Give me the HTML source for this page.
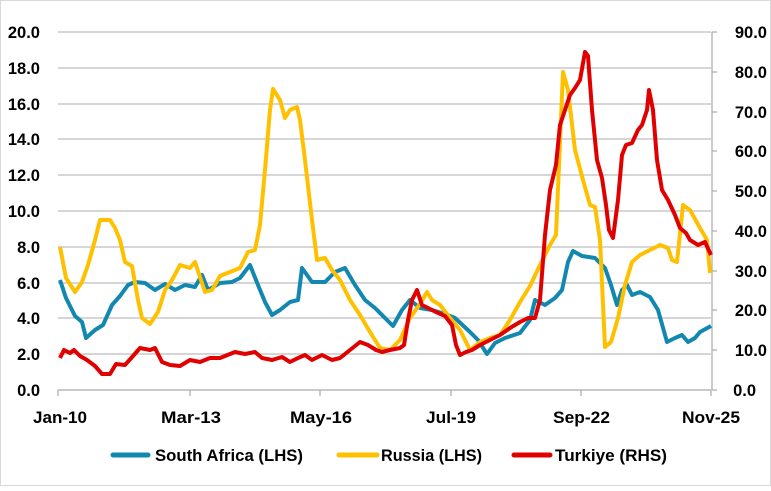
<!DOCTYPE html><html><head><style>body{margin:0;background:#fff}svg text{font-family:"Liberation Sans",sans-serif;font-weight:bold;font-size:16.5px;fill:#000}</style></head><body>
<svg width="771" height="486" xmlns="http://www.w3.org/2000/svg">
<rect x="0.5" y="0.5" width="770" height="485" fill="#fff" stroke="#d9d9d9"/>
<g stroke="#c8c8c8" stroke-width="1.5">
<line x1="58" x2="711" y1="32" y2="32"/><line x1="58" x2="711" y1="68" y2="68"/><line x1="58" x2="711" y1="104" y2="104"/><line x1="58" x2="711" y1="139" y2="139"/><line x1="58" x2="711" y1="175" y2="175"/><line x1="58" x2="711" y1="211" y2="211"/><line x1="58" x2="711" y1="247" y2="247"/><line x1="58" x2="711" y1="283" y2="283"/><line x1="58" x2="711" y1="318" y2="318"/><line x1="58" x2="711" y1="354" y2="354"/>
</g>
<g stroke="#aaa" stroke-width="1.2">
<line x1="58" x2="711" y1="390" y2="390"/><line x1="712" x2="712" y1="32" y2="390"/>
<line x1="58" x2="58" y1="390" y2="396"/><line x1="190" x2="190" y1="390" y2="396"/><line x1="320" x2="320" y1="390" y2="396"/><line x1="451" x2="451" y1="390" y2="396"/><line x1="581" x2="581" y1="390" y2="396"/><line x1="711" x2="711" y1="390" y2="396"/>
<line x1="712" x2="717" y1="32" y2="32"/><line x1="712" x2="717" y1="72" y2="72"/><line x1="712" x2="717" y1="112" y2="112"/><line x1="712" x2="717" y1="151" y2="151"/><line x1="712" x2="717" y1="191" y2="191"/><line x1="712" x2="717" y1="231" y2="231"/><line x1="712" x2="717" y1="271" y2="271"/><line x1="712" x2="717" y1="310" y2="310"/><line x1="712" x2="717" y1="350" y2="350"/><line x1="712" x2="717" y1="390" y2="390"/>
</g>
<g text-anchor="end">
<text x="40" y="38">20.0</text><text x="40" y="74">18.0</text><text x="40" y="110">16.0</text><text x="40" y="145">14.0</text><text x="40" y="181">12.0</text><text x="40" y="217">10.0</text><text x="40" y="253">8.0</text><text x="40" y="289">6.0</text><text x="40" y="324">4.0</text><text x="40" y="360">2.0</text><text x="40" y="396">0.0</text>
</g>
<g text-anchor="end">
<text x="767" y="38">90.0</text><text x="767" y="78">80.0</text><text x="767" y="118">70.0</text><text x="767" y="157">60.0</text><text x="767" y="197">50.0</text><text x="767" y="237">40.0</text><text x="767" y="277">30.0</text><text x="767" y="316">20.0</text><text x="767" y="356">10.0</text><text x="756" y="396">0.0</text>
</g>
<g>
<text x="33" y="423" textLength="54" lengthAdjust="spacingAndGlyphs">Jan-10</text>
<text x="161" y="423" textLength="60" lengthAdjust="spacingAndGlyphs">Mar-13</text>
<text x="290" y="423" textLength="62" lengthAdjust="spacingAndGlyphs">May-16</text>
<text x="426" y="423" textLength="50" lengthAdjust="spacingAndGlyphs">Jul-19</text>
<text x="553" y="423" textLength="57" lengthAdjust="spacingAndGlyphs">Sep-22</text>
<text x="682" y="423" textLength="58" lengthAdjust="spacingAndGlyphs">Nov-25</text>
</g>
<g fill="none" stroke-width="4" stroke-linejoin="round">
<polyline stroke="#1287b0" points="60,280 66,298 75,316 82,322 86,338 95,330 103,325 112,305 120,296 128,285 135,282 145,283 155,290 165,284 175,290 185,285 195,287 202,275 208,290 220,283 232,282 240,278 250,265 258,285 265,302 272,315 280,310 290,302 298,300 302,268 312,282 325,282 335,272 345,268 355,285 365,300 375,308 385,318 393,326 402,310 410,300 420,308 432,310 445,314 455,318 470,332 478,340 487,354 495,343 505,338 520,333 530,320 535,300 545,305 555,298 562,290 568,262 573,251 582,256 595,258 605,268 611,285 617,305 622,290 627,285 632,295 640,292 650,297 658,310 667,342 675,338 682,335 688,342 695,338 700,332 711,326"/>
<polyline stroke="#ffc000" points="60,247 66,278 75,292 82,282 88,265 95,240 100,220 110,220 115,228 120,240 125,262 132,266 138,300 142,318 150,324 158,312 165,290 172,280 180,265 190,268 195,262 205,292 212,290 220,276 230,272 240,268 248,252 255,250 260,225 265,170 270,110 273,89 280,100 285,118 290,110 297,107 300,120 305,160 312,220 317,260 325,258 332,270 340,280 350,300 360,315 370,332 380,348 390,350 400,340 410,318 420,304 427,292 432,300 440,305 450,318 460,330 470,350 480,342 490,338 500,335 510,320 520,302 530,286 540,265 550,245 556,235 563,72 568,90 575,150 583,180 590,205 595,207 600,240 605,347 611,342 618,318 625,285 632,262 640,255 650,250 660,245 668,248 672,260 677,262 683,205 690,210 700,228 707,240 710,273"/>
<polyline stroke="#e00000" points="60,358 64,350 70,353 74,350 80,356 87,360 95,366 102,374 110,374 116,364 125,365 133,356 140,348 150,350 155,348 162,362 170,365 180,366 190,360 200,362 210,358 220,358 235,352 245,354 255,352 262,358 272,360 282,357 290,362 298,358 305,355 312,360 322,355 332,360 340,358 350,350 360,342 368,345 376,350 382,352 390,350 400,348 404,345 408,320 412,300 417,290 422,305 428,308 436,312 445,316 452,325 456,345 460,355 466,352 472,350 480,345 490,340 500,335 510,328 520,322 528,318 535,318 540,300 545,235 550,190 556,165 560,125 565,110 570,95 575,88 580,80 585,52 588,56 592,110 597,160 602,178 606,205 609,230 613,238 618,200 622,155 626,145 632,143 638,130 642,125 647,110 649,90 653,110 657,160 662,190 668,200 675,215 680,228 686,233 690,240 698,245 705,242 711,255"/>
</g>
<g stroke-width="5" stroke-linecap="round">
<line x1="113" x2="148" y1="455" y2="455" stroke="#1287b0"/>
<line x1="339" x2="377" y1="455" y2="455" stroke="#ffc000"/>
<line x1="514" x2="550" y1="455" y2="455" stroke="#e00000"/>
</g>
<text x="155" y="461" textLength="148" lengthAdjust="spacingAndGlyphs">South Africa (LHS)</text>
<text x="381" y="461" textLength="101" lengthAdjust="spacingAndGlyphs">Russia (LHS)</text>
<text x="555" y="461" textLength="112" lengthAdjust="spacingAndGlyphs">Turkiye (RHS)</text>
</svg></body></html>
